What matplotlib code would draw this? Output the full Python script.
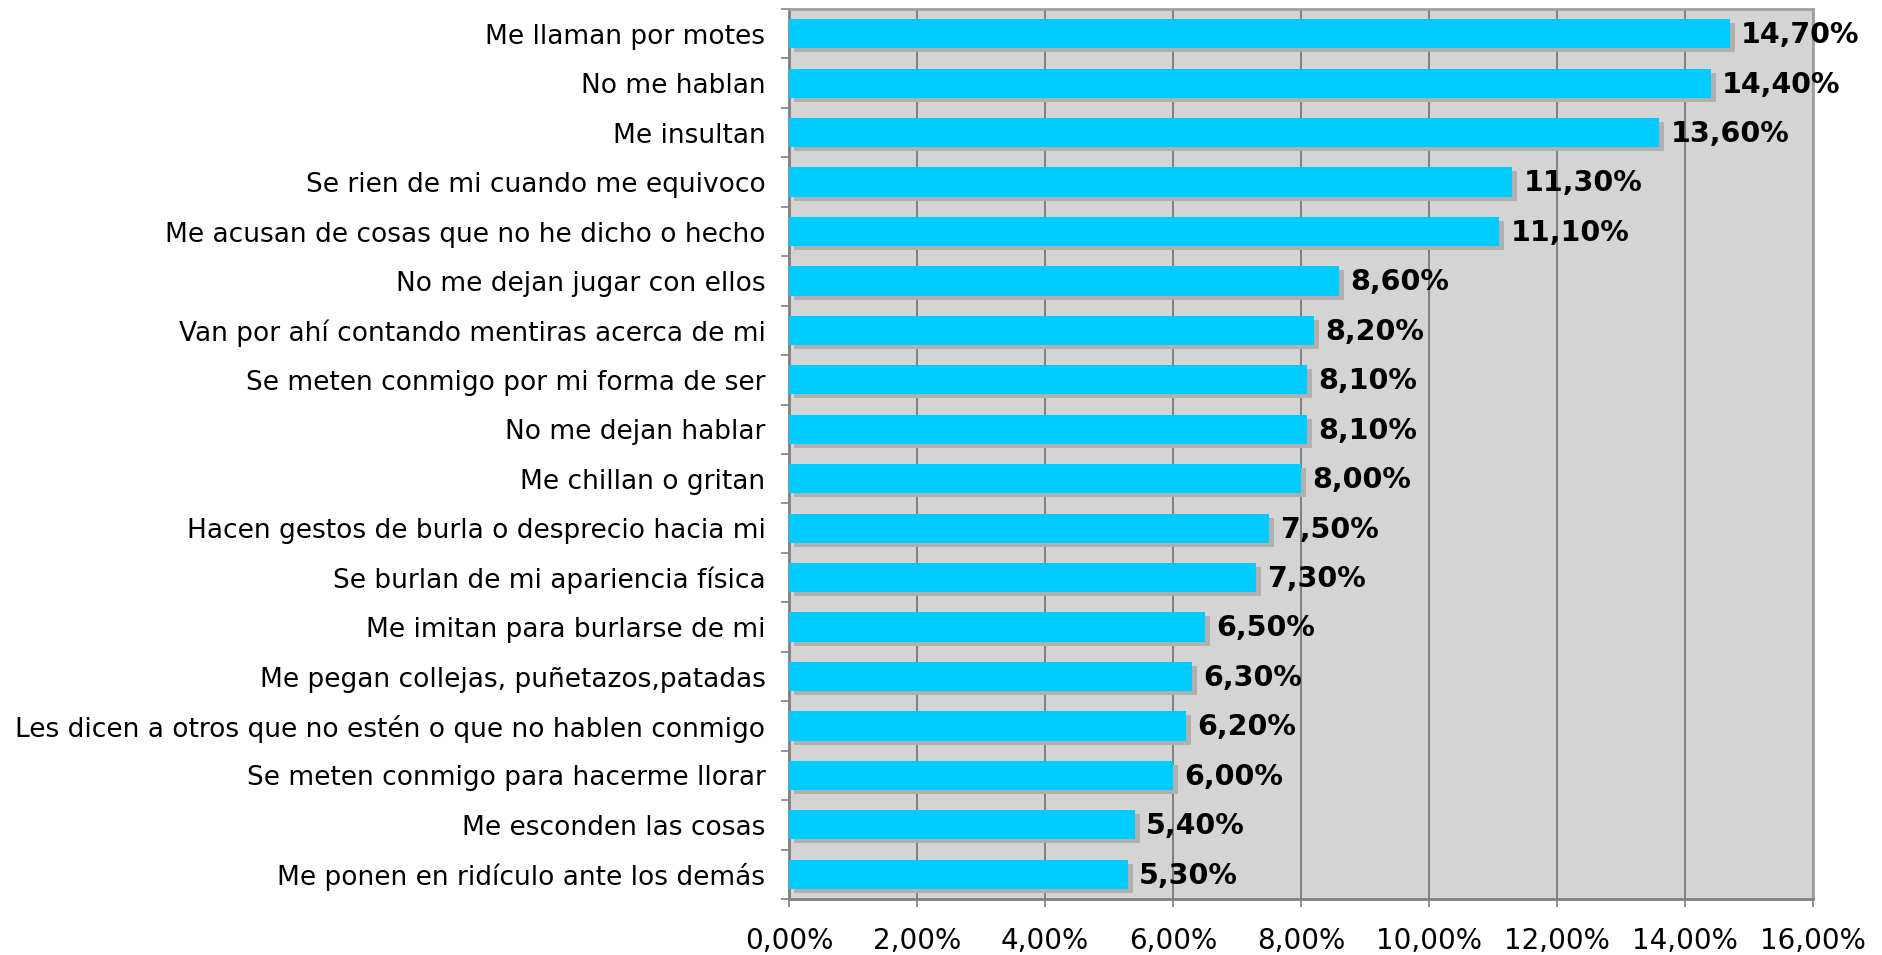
import matplotlib.pyplot as plt
import matplotlib.patheffects as pe
import numpy as np

categories = [
    "Me llaman por motes",
    "No me hablan",
    "Me insultan",
    "Se rien de mi cuando me equivoco",
    "Me acusan de cosas que no he dicho o hecho",
    "No me dejan jugar con ellos",
    "Van por ahí contando mentiras acerca de mi",
    "Se meten conmigo por mi forma de ser",
    "No me dejan hablar",
    "Me chillan o gritan",
    "Hacen gestos de burla o desprecio hacia mi",
    "Se burlan de mi apariencia física",
    "Me imitan para burlarse de mi",
    "Me pegan collejas, puñetazos,patadas",
    "Les dicen a otros que no estén o que no hablen conmigo",
    "Se meten conmigo para hacerme llorar",
    "Me esconden las cosas",
    "Me ponen en ridículo ante los demás",
]
values = [14.7, 14.4, 13.6, 11.3, 11.1, 8.6, 8.2, 8.1, 8.1, 8.0, 7.5, 7.3, 6.5, 6.3, 6.2, 6.0, 5.4, 5.3]
xticks = [0, 2, 4, 6, 8, 10, 12, 14, 16]

bar_color = '#00CCFF'
shadow_color = '#B0B0B0'
bg_color = '#D4D4D4'

fig = plt.figure(figsize=(18.83, 9.55), dpi=100)
ax = fig.add_axes([789 / 1883, 1 - 899 / 955, (1813 - 789) / 1883, (899 - 9) / 955])
ax.set_facecolor(bg_color)

n = len(categories)
ypos = np.arange(n)

bars = ax.barh(ypos, values, height=0.59, color=bar_color, zorder=3,
               path_effects=[pe.SimplePatchShadow(offset=(3.6, -2.9), shadow_rgbFace=shadow_color, alpha=1.0),
                             pe.Normal()])

for bar, v in zip(bars, values):
    ax.annotate(f'{v:.2f}%'.replace('.', ','),
                xy=(bar.get_width(), bar.get_y() + bar.get_height() / 2),
                xytext=(8, -1), textcoords='offset points',
                ha='left', va='center', fontsize=20.5, fontweight='bold',
                annotation_clip=False, zorder=5)

ax.set_xlim(0, 16)
ax.set_ylim(n - 0.5, -0.5)
ax.set_xticks(xticks)
ax.set_xticklabels([f'{t:.2f}%'.replace('.', ',') for t in xticks], fontsize=20)
ax.set_yticks(ypos)
ax.set_yticklabels(categories, fontsize=19)
ax.set_yticks(np.arange(n + 1) - 0.5, minor=True)

ax.tick_params(axis='y', which='major', length=0, pad=17)
ax.tick_params(axis='y', which='minor', length=6, width=1.2, color='#808080', direction='out')
ax.tick_params(axis='x', which='major', length=6, width=1.2, color='#808080', direction='out', pad=14)

ax.grid(axis='x', color='#707070', linewidth=1.2, zorder=1)
ax.set_axisbelow(True)

for side in ['top', 'right']:
    ax.spines[side].set_color('#A0A0A0')
    ax.spines[side].set_linewidth(2)
for side in ['left', 'bottom']:
    ax.spines[side].set_color('#808080')
    ax.spines[side].set_linewidth(2)

plt.savefig('out.png', dpi=100)
